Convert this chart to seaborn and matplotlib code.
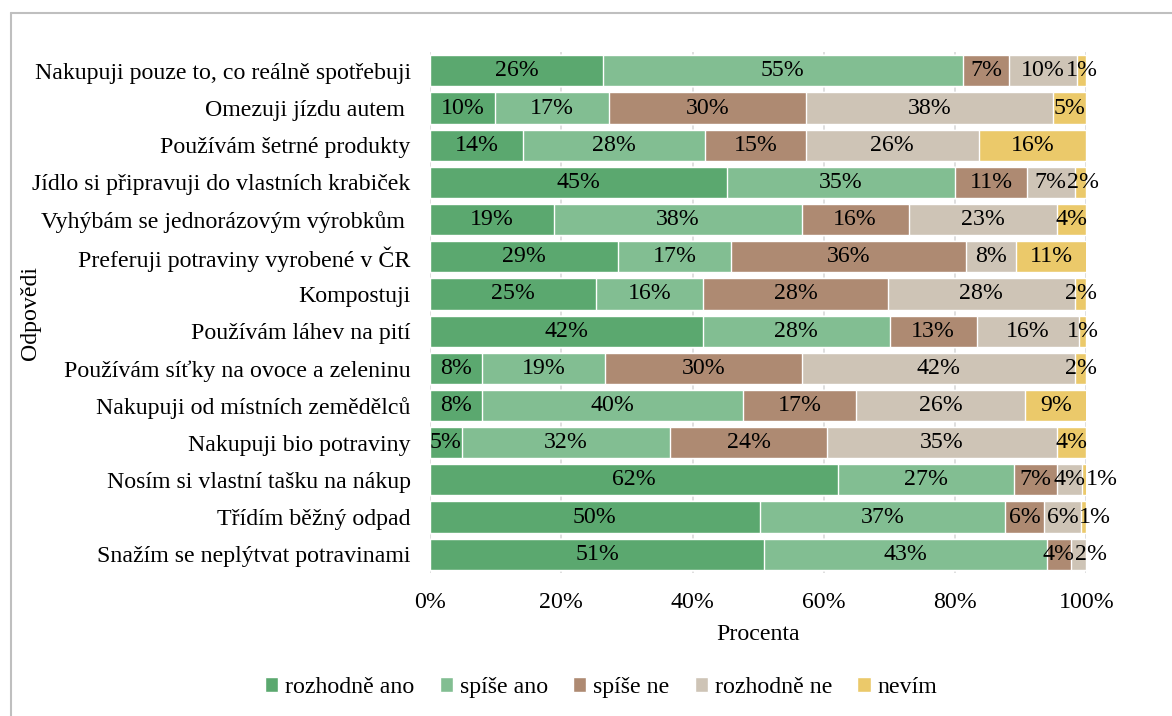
import numpy as np
import pandas as pd
import matplotlib.pyplot as plt
import seaborn as sns
from matplotlib.patches import Patch
from matplotlib.lines import Line2D

questions = [
    "Nakupuji pouze to, co reálně spotřebuji",
    "Omezuji jízdu autem ",
    "Používám šetrné produkty",
    "Jídlo si připravuji do vlastních krabiček",
    "Vyhýbám se jednorázovým výrobkům ",
    "Preferuji potraviny vyrobené v ČR",
    "Kompostuji",
    "Používám láhev na pití",
    "Používám síťky na ovoce a zeleninu",
    "Nakupuji od místních zemědělců",
    "Nakupuji bio potraviny",
    "Nosím si vlastní tašku na nákup",
    "Třídím běžný odpad",
    "Snažím se neplýtvat potravinami",
]

answers = ["rozhodně ano", "spíše ano", "spíše ne", "rozhodně ne", "nevím"]

rozhodne_ano = [26.3, 9.9, 14.2, 45.2, 18.9, 28.6, 25.2, 41.6, 7.9, 7.9, 4.8, 62.2, 50.2, 50.9]
spise_ano = [54.9, 17.4, 27.7, 34.8, 37.7, 17.3, 16.4, 28.4, 18.8, 39.8, 31.8, 26.7, 37.4, 43.1]
spise_ne = [7.0, 29.9, 15.3, 10.9, 16.3, 35.7, 28.2, 13.3, 29.9, 17.2, 23.9, 6.6, 5.9, 3.6]
rozhodne_ne = [10.4, 37.7, 26.4, 7.3, 22.6, 7.7, 28.4, 15.5, 41.6, 25.8, 35.0, 3.8, 5.7, 2.4]
nevim = [1.4, 5.1, 16.4, 1.8, 4.4, 10.8, 1.8, 1.2, 1.8, 9.4, 4.4, 0.8, 0.8, 0.0]

colors = ["#5ba86f", "#82be92", "#ae8a72", "#cec4b6", "#ebc96a"]

df = pd.DataFrame(
    {
        "otazka": questions,
        "rozhodně ano": rozhodne_ano,
        "spíše ano": spise_ano,
        "spíše ne": spise_ne,
        "rozhodně ne": rozhodne_ne,
        "nevím": nevim,
    }
)
cum = df[answers].cumsum(axis=1)
cum["otazka"] = df["otazka"]

sns.set_theme(style="white")
plt.rcParams["font.family"] = ["Liberation Serif", "DejaVu Serif"]
for key in ["text.color", "axes.labelcolor", "xtick.color", "ytick.color"]:
    plt.rcParams[key] = "black"
fs = 17.2

fig, ax = plt.subplots(figsize=(11.72, 7.16), dpi=100)
fig.subplots_adjust(left=0.367, right=0.927, top=0.927, bottom=0.2)

# stacked bars: draw cumulative totals from the largest down
for ans, col in reversed(list(zip(answers, colors))):
    sns.barplot(data=cum, x=ans, y="otazka", color=col, width=0.84,
                orient="h", saturation=1, ax=ax, zorder=2)

ax.set_xlim(0, 100)
fig.canvas.draw()
renderer = fig.canvas.get_renderer()
to_data = ax.transData.inverted()

# centred labels, pushed right when they would run into the previous one
for i, q in enumerate(questions):
    prev_right = None
    for ans in answers:
        v = df.loc[i, ans]
        if v <= 0:
            continue
        mid = cum.loc[i, ans] - v / 2
        t = ax.text(mid, i, f"{v:.0f}%", ha="center", va="center",
                    fontsize=fs, color="black", zorder=3)
        bb = t.get_window_extent(renderer)
        if prev_right is not None and bb.x0 < prev_right:
            shift = prev_right - bb.x0
            new_x = to_data.transform((ax.transData.transform((mid, i))[0] + shift, 0))[0]
            t.set_x(new_x)
            bb = t.get_window_extent(renderer)
        prev_right = bb.x1

ax.set_xticks(np.arange(0, 101, 20))
ax.set_xticklabels([f"{t}%" for t in range(0, 101, 20)], fontsize=fs)
ax.tick_params(axis="y", labelsize=fs, length=0, pad=14)
ax.tick_params(axis="x", length=0, pad=14)
ax.grid(axis="x", color="#d9d9d9", linewidth=1.2, zorder=0)
ax.set_axisbelow(True)
for s in ax.spines.values():
    s.set_visible(False)
ax.set_xlabel("Procenta", fontsize=fs, labelpad=8)
ax.set_ylabel("Odpovědi", fontsize=fs)
ax.yaxis.set_label_coords(-0.593, 0.5)

handles = [Patch(facecolor=c, label=a) for a, c in zip(answers, colors)]
fig.legend(handles=handles, loc="center", bbox_to_anchor=(0.513, 0.04), ncol=5,
           frameon=False, fontsize=fs, handlelength=0.55, handleheight=0.55,
           handletextpad=0.3, columnspacing=1.05)

# light frame around the chart area (top and left edge)
fig.add_artist(Line2D([0.009, 1.0], [0.982, 0.982], color="#bfbfbf", lw=1.5))
fig.add_artist(Line2D([0.0095, 0.0095], [0.0, 0.982], color="#bfbfbf", lw=1.5))

fig.savefig("out.png", dpi=100)
